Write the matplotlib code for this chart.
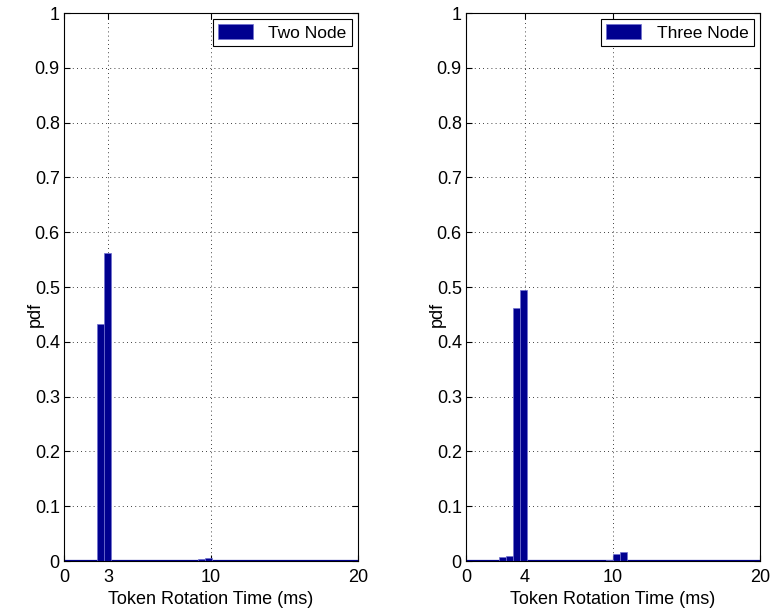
import numpy as np
import matplotlib.pyplot as plt

plt.rcParams['font.family'] = ['Liberation Sans', 'DejaVu Sans']
plt.rcParams['font.size'] = 13

# data
two_x = [2.47, 2.95, 9.35, 9.83]
two_pdf = [0.432, 0.562, 0.004, 0.006]
three_x = [2.49, 2.97, 3.44, 3.92, 9.78, 10.23, 10.72]
three_pdf = [0.007, 0.009, 0.462, 0.494, 0.001, 0.012, 0.016]
two_xticks = [0, 3, 10, 20]
three_xticks = [0, 4, 10, 20]
yticks = [0, 0.1, 0.2, 0.3, 0.4, 0.5, 0.6, 0.7, 0.8, 0.9, 1]
ytick_labels = ['0', '0.1', '0.2', '0.3', '0.4', '0.5', '0.6', '0.7', '0.8', '0.9', '1']

bar_color = '#00008f'

fig = plt.figure(figsize=(7.75, 6.14), dpi=100)
ax1 = fig.add_axes([0.0826, 0.0863, 0.379, 0.8925])
ax2 = fig.add_axes([0.6013, 0.0863, 0.379, 0.8925])

def draw(ax, x, y, xticks, name):
    ax.axhline(0, color=bar_color, linewidth=1.6, zorder=2)
    ax.bar(x, y, width=0.48, color=bar_color, edgecolor='#7070d0',
           linewidth=0.5, label=name, zorder=3)
    ax.set_xlim(0, 20)
    ax.set_ylim(0, 1)
    ax.set_xticks(xticks)
    ax.set_yticks(yticks)
    ax.set_yticklabels(ytick_labels)
    ax.grid(True, linestyle=(0, (1, 4)), color='black', linewidth=0.6)
    ax.set_axisbelow(True)
    ax.tick_params(direction='in', top=True, right=True, length=4,
                   labelsize=13)
    ax.tick_params(axis='y', pad=3)
    ax.tick_params(axis='x', pad=6)
    for s in ax.spines.values():
        s.set_linewidth(0.8)
    ax.set_xlabel('Token Rotation Time (ms)', labelpad=3, fontsize=13)
    ax.set_ylabel('pdf', fontsize=13)
    ax.yaxis.set_label_coords(-0.07, 0.45)
    leg = ax.legend(loc='upper right', fancybox=False, framealpha=1,
                    edgecolor='black', handlelength=2.0, handleheight=0.95,
                    handletextpad=0.9, borderaxespad=0.35, fontsize=12.5,
                    borderpad=0.3)
    leg.get_frame().set_linewidth(0.8)

draw(ax1, two_x, two_pdf, two_xticks, 'Two Node')
draw(ax2, three_x, three_pdf, three_xticks, 'Three Node')

fig.savefig('out.png', dpi=100)
